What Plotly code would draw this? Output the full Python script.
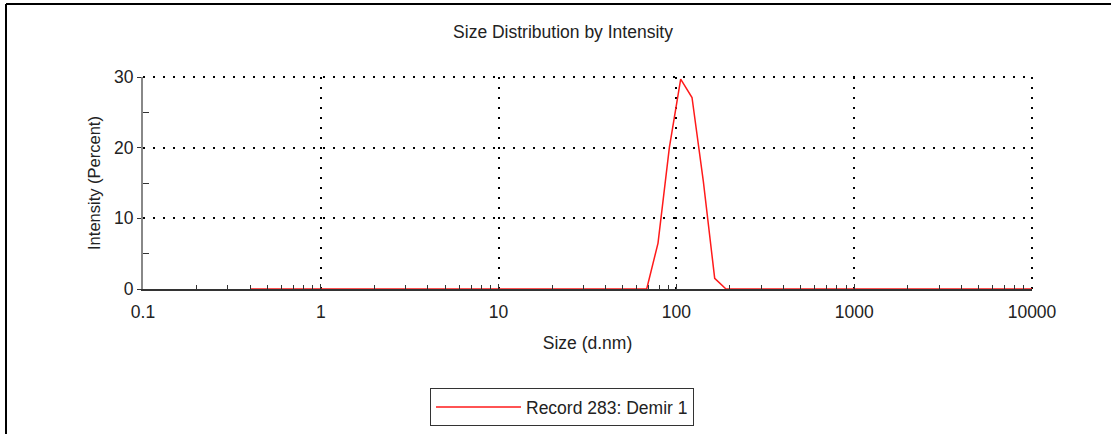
import plotly.graph_objects as go

# Size bins (d.nm) and intensity (%)
sizes = [0.4, 0.4632, 0.5365, 0.6213, 0.7195, 0.8332, 0.9649, 1.117, 1.294, 1.499,
         1.736, 2.010, 2.328, 2.696, 3.122, 3.615, 4.187, 4.849, 5.615, 6.503,
         7.531, 8.721, 10.10, 11.70, 13.54, 15.69, 18.17, 21.04, 24.36, 28.21,
         32.67, 37.84, 43.82, 50.75, 58.77, 68.06, 78.82, 91.28, 105.7, 122.4,
         141.8, 164.2, 190.1, 220.2, 255.0, 295.3, 342.0, 396.1, 458.7, 531.2,
         615.1, 712.4, 825.0, 955.4, 1106, 1281, 1484, 1718, 1990, 2305,
         2669, 3091, 3580, 4145, 4801, 5560, 6439, 7456, 8635, 10000]
intensity = [0, 0, 0, 0, 0, 0, 0, 0, 0, 0,
             0, 0, 0, 0, 0, 0, 0, 0, 0, 0,
             0, 0, 0, 0, 0, 0, 0, 0, 0, 0,
             0, 0, 0, 0, 0, 0, 6.5, 20.0, 29.7, 27.1,
             15.2, 1.5, 0, 0, 0, 0, 0, 0, 0, 0,
             0, 0, 0, 0, 0, 0, 0, 0, 0, 0,
             0, 0, 0, 0, 0, 0, 0, 0, 0, 0]

x_tickvals = [0.1, 1, 10, 100, 1000, 10000]
x_ticktext = ["0.1", "1", "10", "100", "1000", "10000"]
y_tickvals = [0, 10, 20, 30]
y_minor = [5, 15, 25]
x_minor = [m * d for d in [0.1, 1, 10, 100, 1000] for m in range(2, 10)]

FONT = "Liberation Sans, Arial, sans-serif"
TXT = "#222222"
GRID_DASH = "2px,8px"

fig = go.Figure()
fig.add_trace(go.Scatter(x=sizes, y=intensity, mode="lines",
                         name="Record 283: Demir 1",
                         line=dict(color="#ff1a1a", width=1.5)))

# plot area: left 143, right 1032, top 77, bottom 289
L, R, T, B = 143, 1032, 77, 289
W, H = R - L, B - T

def px(x):
    return (x - L) / W

def py(y):
    return (B - y) / H

fig.update_layout(
    width=1111, height=434,
    margin=dict(l=L, r=1111 - R, t=T, b=434 - B, autoexpand=False),
    paper_bgcolor="white", plot_bgcolor="white",
    font=dict(family=FONT, size=17, color=TXT),
    title=dict(text="Size Distribution by Intensity", x=563 / 1111, xanchor="center",
               y=1 - 32 / 434, yanchor="middle", yref="container",
               font=dict(size=17.5, color=TXT)),
    showlegend=True,
    legend=dict(x=px(430), y=py(388), xanchor="left", yanchor="top",
                bordercolor="#333333", borderwidth=1, bgcolor="white",
                font=dict(size=17.5, color=TXT), itemwidth=85),
    xaxis=dict(type="log", range=[-1, 4],
               tickvals=x_tickvals, ticktext=x_ticktext,
               ticks="inside", ticklen=5, tickcolor="#333333", tickwidth=1,
               tickfont=dict(size=17.5, color=TXT), ticklabelstandoff=6,
               showline=True, linecolor="#333333", linewidth=1.5,
               showgrid=True, gridcolor="black", gridwidth=2, griddash=GRID_DASH,
               minor=dict(tickvals=x_minor, ticks="inside", ticklen=4,
                          tickcolor="#333333", tickwidth=1, showgrid=False),
               title=dict(text="Size (d.nm)", font=dict(size=17.5, color=TXT), standoff=16),
               zeroline=False, fixedrange=True, automargin=False),
    yaxis=dict(range=[0, 30], tickvals=y_tickvals,
               ticks="outside", ticklen=4, tickcolor="#333333", tickwidth=1,
               tickfont=dict(size=17.5, color=TXT),
               showline=True, linecolor="#888888", linewidth=2,
               showgrid=True, gridcolor="black", gridwidth=2, griddash=GRID_DASH,
               minor=dict(tickvals=y_minor, ticks="inside", ticklen=6,
                          tickcolor="#333333", tickwidth=1, showgrid=False),
               title=dict(text="Intensity (Percent)", font=dict(size=16.5, color=TXT), standoff=9),
               zeroline=False, fixedrange=True, automargin=False),
)

# grid lines on the top (y=30) and right (x=10000) edges of the plot area
fig.add_shape(type="line", xref="x domain", yref="y domain",
              x0=0, x1=1, y0=1, y1=1, layer="below",
              line=dict(color="black", width=2, dash=GRID_DASH))
fig.add_shape(type="line", xref="x domain", yref="y domain",
              x0=1, x1=1, y0=0, y1=1, layer="below",
              line=dict(color="black", width=2, dash=GRID_DASH))

# outer frame (top and left edges)
fig.add_shape(type="line", xref="paper", yref="paper",
              x0=px(6), x1=px(1111), y0=py(4), y1=py(4),
              line=dict(color="black", width=2))
fig.add_shape(type="line", xref="paper", yref="paper",
              x0=px(6), x1=px(6), y0=py(4), y1=py(434),
              line=dict(color="black", width=2))

fig.write_html("out.html")
